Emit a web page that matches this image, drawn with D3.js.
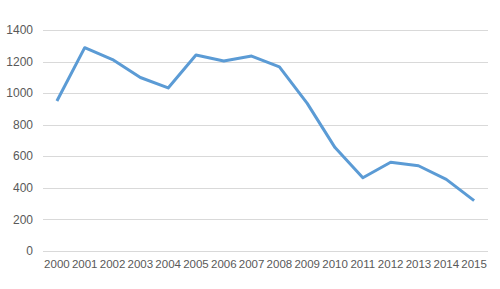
<!DOCTYPE html>
<html>
<head>
<meta charset="utf-8">
<script src="https://cdn.jsdelivr.net/npm/d3@7"></script>
<style>
  body { margin: 0; background: #fff; }
  text { font-family: "Liberation Sans", Arial, sans-serif; fill: #595959; }
</style>
</head>
<body>
<svg></svg>
<script>
const years = ["2000", "2001", "2002", "2003", "2004", "2005", "2006", "2007",
  "2008", "2009", "2010", "2011", "2012", "2013", "2014", "2015"];
const values = [950, 1288, 1213, 1099, 1033, 1242, 1204, 1235,
  1166, 935, 655, 464, 562, 540, 454, 319];
const yTicks = [0, 200, 400, 600, 800, 1000, 1200, 1400];

const w = 500;
const h = 289;
const margin = { top: 30, bottom: 38, left: 43, right: 12 };
const chartW = w - margin.left - margin.right;
const chartH = h - margin.top - margin.bottom;

const svg = d3.select("svg").attr("width", w).attr("height", h);
const chart = svg.append("g")
  .attr("transform", `translate(${margin.left}, ${margin.top})`);

const xScale = d3.scaleBand().domain(years).range([0, chartW]);
const yScale = d3.scaleLinear().domain([0, 1400]).range([chartH, 0]);

// gridlines
chart.append("g")
  .selectAll("line")
  .data(yTicks)
  .enter()
  .append("line")
  .attr("x1", 0)
  .attr("x2", chartW)
  .attr("y1", d => Math.round(yScale(d)) + 0.5)
  .attr("y2", d => Math.round(yScale(d)) + 0.5)
  .attr("stroke", "#d9d9d9")
  .attr("stroke-width", 1);

// y labels
chart.append("g")
  .selectAll("text")
  .data(yTicks)
  .enter()
  .append("text")
  .attr("x", -10)
  .attr("y", d => yScale(d))
  .attr("dy", "0.35em")
  .attr("text-anchor", "end")
  .attr("font-size", 12)
  .text(d => d);

// x labels
chart.append("g")
  .selectAll("text")
  .data(years)
  .enter()
  .append("text")
  .attr("x", d => xScale(d) + xScale.bandwidth() / 2)
  .attr("y", chartH + 13)
  .attr("dy", "0.35em")
  .attr("text-anchor", "middle")
  .attr("font-size", 11.5)
  .text(d => d);

// line
const line = d3.line()
  .x((d, i) => xScale(years[i]) + xScale.bandwidth() / 2)
  .y(d => yScale(d));

chart.append("path")
  .datum(values)
  .attr("d", line)
  .attr("fill", "none")
  .attr("stroke", "#5b9bd5")
  .attr("stroke-width", 3)
  .attr("stroke-linejoin", "round");
</script>
</body>
</html>
